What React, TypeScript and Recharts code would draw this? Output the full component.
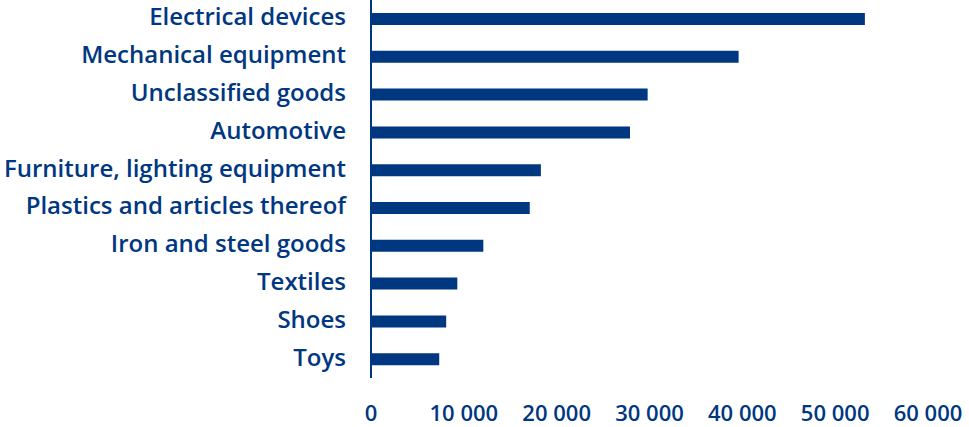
import { BarChart, Bar, XAxis, YAxis } from "recharts";

const categories = [
  "Electrical devices",
  "Mechanical equipment",
  "Unclassified goods",
  "Automotive",
  "Furniture, lighting equipment",
  "Plastics and articles thereof",
  "Iron and steel goods",
  "Textiles",
  "Shoes",
  "Toys",
];

const values = [53200, 39600, 29800, 27900, 18300, 17100, 12100, 9300, 8100, 7350];

const xTicks = [0, 10000, 20000, 30000, 40000, 50000, 60000];

const BLUE = "#003781";

const data = categories.map((name, i) => ({ name, value: values[i] }));

const fmt = (v: number) => (v === 0 ? "0" : `${v / 1000} 000`);

export default function App() {
  return (
    <div style={{ position: "absolute", left: 0, top: 0, width: 969, height: 427, background: "#fff" }}>
      <BarChart
        width={969}
        height={427}
        data={data}
        layout="vertical"
        margin={{ top: 0, right: 41, bottom: 0, left: 0 }}
        barSize={12}
      >
        <XAxis
          type="number"
          domain={[0, 60000]}
          ticks={xTicks}
          tickFormatter={fmt}
          axisLine={false}
          tickLine={false}
          tickSize={0}
          tickMargin={27}
          height={49}
          interval={0}
          tick={{ fill: BLUE, fontSize: 22, fontWeight: 600, fontFamily: "Open Sans" }}
        />
        <YAxis
          type="category"
          dataKey="name"
          width={371}
          axisLine={{ stroke: BLUE, strokeWidth: 2 }}
          tickLine={false}
          tickSize={0}
          tickMargin={25}
          interval={0}
          tick={{ fill: BLUE, fontSize: 24, fontWeight: 600, fontFamily: "Open Sans", dy: -2 }}
        />
        <Bar dataKey="value" fill={BLUE} isAnimationActive={false} />
      </BarChart>
    </div>
  );
}
